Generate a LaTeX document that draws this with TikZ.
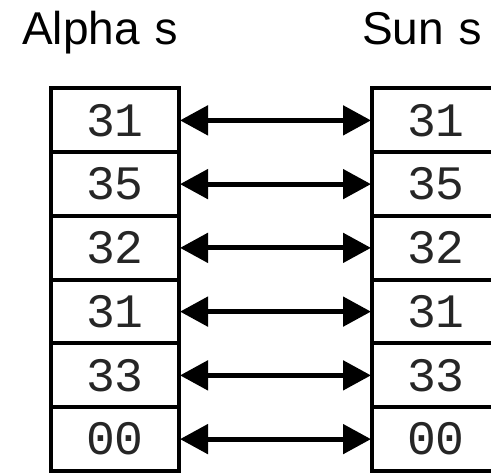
\documentclass[tikz,border=0pt]{standalone}
\usepackage{fontspec}
\setmainfont{Liberation Sans}
\setmonofont{Liberation Mono}
\usetikzlibrary{arrows.meta}
\begin{document}
\begin{tikzpicture}[x=1pt,y=1pt,
  cell/.style={draw=black,line width=4pt,minimum width=128pt,minimum height=63.75pt,inner sep=0pt,font=\fontsize{48}{48}\selectfont\ttfamily,text=black!85},
  title/.style={anchor=base west,inner sep=0pt,font=\fontsize{46}{46}\selectfont},
  link/.style={line width=5pt,{Triangle[length=28pt,width=29pt]}-{Triangle[length=28pt,width=29pt]},shorten <=-1pt,shorten >=-1pt}]
\useasboundingbox (0,0) rectangle (491,-473);
\node[title] (ta) at (22,-45) {Alpha \texttt{s}};
\node[title] (tb) at (362,-45) {Sun \texttt{s}};
\foreach \v [count=\i] in {31,35,32,31,33,00}{
  \node[cell] (a\i) at (115,{-88.5-63.75*(\i-0.5)}) {\v};
  \node[cell] (b\i) at (436,{-88.5-63.75*(\i-0.5)}) {\v};
  \draw[link] (a\i.east) -- (b\i.west);
}
\end{tikzpicture}
\end{document}
